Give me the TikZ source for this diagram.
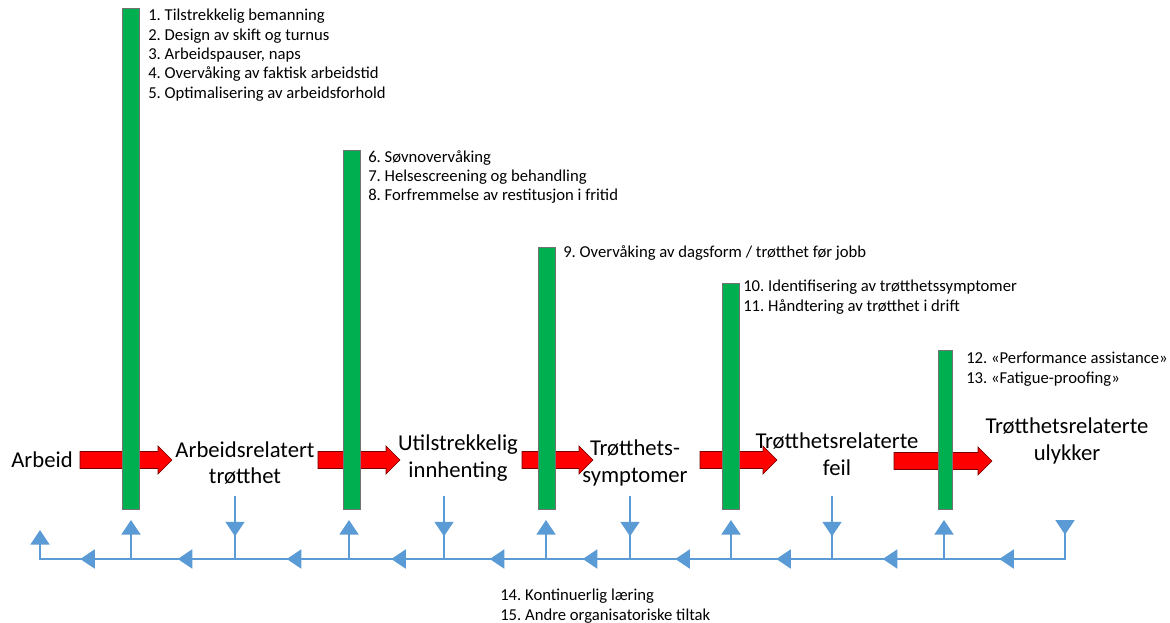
\documentclass[tikz,border=0pt]{standalone}
\usepackage{fontspec}
\setmainfont{Carlito}
\frenchspacing
\usetikzlibrary{arrows.meta,decorations.markings,fit}
\definecolor{barfill}{HTML}{00B050}
\definecolor{fbblue}{HTML}{5B9BD5}
\tikzset{
  bar/.style={draw=black!55, fill=barfill, inner sep=0pt, line width=0.4pt},
  flowarr/.style={draw=red!45!black, fill=red, line width=0.5pt},
  stage/.style={align=center, font=\fontsize{17}{20}\selectfont},
  tiltak/.style={anchor=north west, align=left, inner sep=0pt, font=\fontsize{12.5}{14.5}\selectfont},
  fb/.style={draw=fbblue, line width=2.2pt, line cap=rect},
  fbtip/.style={-{Triangle[width=14pt,length=11pt]}},
  midtip/.style={postaction={decorate}, decoration={markings,
    mark=at position #1 with {\arrow[xshift=4pt]{Triangle[width=14pt,length=11pt]}}}}
}
\newcommand{\flowarrow}[3]{% start x, tip x, y
  \draw[flowarr] (#1,#3-8.5) -- (#2-14,#3-8.5) -- (#2-14,#3-14) -- (#2,#3)
    -- (#2-14,#3+14) -- (#2-14,#3+8.5) -- (#1,#3+8.5) -- cycle;}
\begin{document}
\begin{tikzpicture}[x=0.75pt,y=-0.75pt]
\useasboundingbox (0,0) rectangle (1170,623);
% stages
\node[stage] (arbeid) at (42,460) {Arbeid};
\node[stage] (s1) at (245,463) {Arbeidsrelatert\\trøtthet};
\node[stage] (s2) at (458,458) {Utilstrekkelig\\innhenting};
\node[stage] (s3) at (635,463) {Trøtthets-\\symptomer};
\node[stage] (s4) at (837,454) {Trøtthetsrelaterte\\feil};
\node[stage] (s5) at (1067,441) {Trøtthetsrelaterte\\ulykker};
% red flow arrows
\flowarrow{80}{172}{460}
\flowarrow{318}{400}{460}
\flowarrow{522}{593}{460}
\flowarrow{700}{777}{460}
\flowarrow{894}{992}{461}
% barriers
\node[bar, fit={(122,8) (139,509)}] (bar1) {};
\node[bar, fit={(343,150) (360,509)}] (bar2) {};
\node[bar, fit={(538,247) (555,509)}] (bar3) {};
\node[bar, fit={(722,283) (739,509)}] (bar4) {};
\node[bar, fit={(938,350) (952,509)}] (bar5) {};
\node[tiltak] (t1) at (148,9) {1. Tilstrekkelig bemanning\\2. Design av skift og turnus\\3. Arbeidspauser, naps\\4. Overvåking av faktisk arbeidstid\\5. Optimalisering av arbeidsforhold};
\node[tiltak] (t2) at (368,150) {6. Søvnovervåking\\7. Helsescreening og behandling\\8. Forfremmelse av restitusjon i fritid};
\node[tiltak] (t3) at (563,245) {9. Overvåking av dagsform / trøtthet før jobb};
\node[tiltak] (t4) at (743,280) {10. Identifisering av trøtthetssymptomer\\11. Håndtering av trøtthet i drift};
\node[tiltak] (t5) at (966,352) {12. «Performance assistance»\\13. «Fatigue-proofing»};
\node[tiltak] (t6) at (500,589) {14. Kontinuerlig læring\\15. Andre organisatoriske tiltak};
% feedback loop
\coordinate (k0) at (40,559);
\coordinate (k1) at (131,559);
\coordinate (k2) at (235,559);
\coordinate (k3) at (349,559);
\coordinate (k4) at (444,559);
\coordinate (k5) at (546,559);
\coordinate (k6) at (630,559);
\coordinate (k7) at (731,559);
\coordinate (k8) at (832,559);
\coordinate (k9) at (944,559);
\coordinate (k10) at (1065,559);
\coordinate (kl) at (40,530);
\coordinate (kr) at (1065,522);
\coordinate (top) at (0,497);
\foreach \a/\b in {k10/k9,k9/k8,k8/k7,k7/k6,k6/k5,k5/k4,k4/k3,k3/k2,k2/k1,k1/k0}
  \draw[fb, midtip=0.5] (\a) -- (\b);
\draw[fb, fbtip] (k0) -- (kl);
\draw[fb, midtip=0.2] (kr) -- (k10);
\foreach \k/\b in {k1/bar1,k3/bar2,k5/bar3,k7/bar4,k9/bar5}
  \draw[fb, fbtip, shorten >=8pt] (\k) -- (\k |- \b.south);
\foreach \k in {k2,k4,k6,k8}
  \draw[fb, midtip=0.55] (\k |- top) -- (\k);
\end{tikzpicture}
\end{document}
